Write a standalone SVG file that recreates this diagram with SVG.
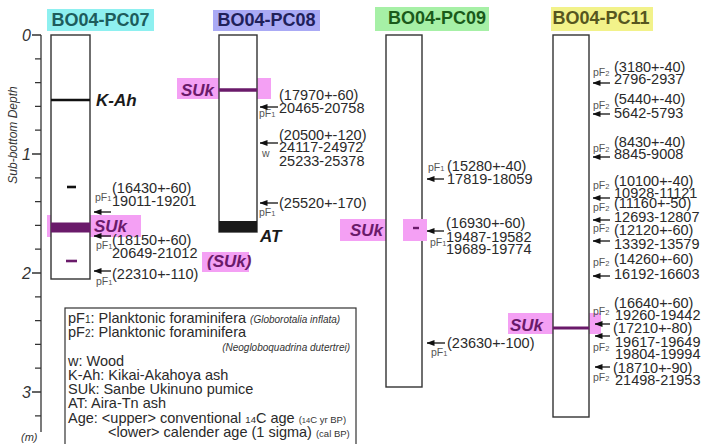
<svg xmlns="http://www.w3.org/2000/svg" width="702" height="444" viewBox="0 0 702 444">
<defs>
<style>
text{font-family:"Liberation Sans",Arial,sans-serif;}
.core{fill:#fff;stroke:#333;stroke-width:1.4;}
.title{font-size:18px;font-weight:bold;text-anchor:middle;}
.num{font-size:14.5px;fill:#2a2a2a;}
.pf{font-size:10.5px;fill:#555;}
.pfs{font-size:7.5px;}
.tag{font-size:17px;font-weight:bold;font-style:italic;fill:#1a1a1a;}
.suk{font-size:17px;font-weight:bold;font-style:italic;fill:#6a1a6a;}
.pink{fill:#f4a0f4;}
.purple{stroke:#6a1a6a;}
.arrow{stroke:#111;stroke-width:1.3;fill:none;marker-end:url(#ah);}
.ax{stroke:#333;stroke-width:1.3;fill:none;}
.axl{font-size:16px;font-style:italic;fill:#333;text-anchor:end;}
.leg{font-size:14.5px;fill:#2a2a2a;}
.legs{font-size:10px;font-style:italic;fill:#333;}
.legsm{font-size:9.5px;fill:#333;}
</style>
<marker id="ah" viewBox="0 0 8 6" refX="7.5" refY="3" markerWidth="8" markerHeight="6" markerUnits="userSpaceOnUse" orient="auto">
<path d="M0,0 L8,3 L0,6 z" fill="#111"/>
</marker>
</defs>
<rect width="702" height="444" fill="#fff"/>

<g id="axis">
<line class="ax" x1="41" y1="35" x2="41" y2="432"/>
<path class="ax" d="M32,35H41M35,58.8H41M35,82.6H41M35,106.4H41M35,130.2H41M32,154H41M35,177.8H41M35,201.6H41M35,225.4H41M35,249.2H41M32,273H41M35,296.8H41M35,320.6H41M35,344.4H41M35,368.2H41M32,392H41M35,415.8H41"/>
<text class="axl" x="31" y="41">0</text>
<text class="axl" x="31" y="160">1</text>
<text class="axl" x="31" y="279">2</text>
<text class="axl" x="31" y="398">3</text>
<text x="17" y="135" transform="rotate(-90 17 135)" font-size="12" font-style="italic" fill="#333" text-anchor="middle">Sub-bottom Depth</text>
<text x="21" y="441" font-size="11" font-style="italic" fill="#333">(m)</text>
</g>

<g id="pc07">
<rect x="47" y="9" width="107" height="22" fill="#8ef0f0"/>
<text class="title" x="100.5" y="26" fill="#1d5c5c">BO04-PC07</text>
<rect class="pink" x="47" y="215" width="94" height="22"/>
<rect class="pink" x="60" y="250" width="24" height="22"/>
<rect class="core" x="51" y="35" width="39" height="244"/>
<line x1="51" y1="100" x2="90" y2="100" stroke="#111" stroke-width="2.6"/>
<text class="tag" x="96" y="106">K-Ah</text>
<line x1="67" y1="187" x2="76" y2="187" stroke="#111" stroke-width="2.6"/>
<rect x="51" y="222.5" width="39" height="10" fill="#6a1a6a"/>
<text class="suk" x="94" y="232">SUk</text>
<line class="purple" x1="66" y1="261" x2="77" y2="261" stroke-width="2.6"/>
<text class="num" x="112" y="193">(16430+-60)</text>
<text class="num" x="112" y="206">19011-19201</text>
<text class="pf" x="95" y="201">pF<tspan class="pfs">1</tspan></text>
<text class="num" x="112" y="245">(18150+-60)</text>
<text class="pf" x="96" y="249">pF<tspan class="pfs">1</tspan></text>
<text class="num" x="112" y="258">20649-21012</text>
<text class="num" x="112" y="279">(22310+-110)</text>
<text class="pf" x="96" y="285">pF<tspan class="pfs">1</tspan></text>
</g>

<g id="pc08">
<rect x="213" y="10" width="107" height="21" fill="#aaaaf5"/>
<text class="title" x="266.5" y="26" fill="#20205a">BO04-PC08</text>
<rect class="pink" x="177" y="78" width="94" height="21"/>
<rect class="core" x="219" y="35" width="38" height="197"/>
<line class="purple" x1="219" y1="90" x2="257" y2="90" stroke-width="3.5"/>
<text class="suk" x="181" y="96">SUk</text>
<rect x="219" y="221" width="38" height="11" fill="#1a1a1a"/>
<text class="tag" x="260" y="242" font-size="18">AT</text>
<rect class="pink" x="202" y="252" width="47" height="20"/>
<text class="suk" x="207" y="267" font-size="14.5">(SUk)</text>
<text class="num" x="279" y="100">(17970+-60)</text>
<text class="num" x="279" y="113">20465-20758</text>
<text class="pf" x="259" y="117">pF<tspan class="pfs">1</tspan></text>
<text class="num" x="279" y="140">(20500+-120)</text>
<text class="num" x="279" y="152">24117-24972</text>
<text class="pf" x="262" y="157">w</text>
<text class="num" x="279" y="166">25233-25378</text>
<text class="num" x="279" y="208">(25520+-170)</text>
<text class="pf" x="259" y="216">pF<tspan class="pfs">1</tspan></text>
</g>

<g id="pc09">
<rect x="375" y="7" width="114" height="24" fill="#a6f0a6"/>
<text class="title" x="437" y="24" fill="#1a5a1a">BO04-PC09</text>
<rect class="pink" x="340" y="219" width="47" height="22"/>
<rect class="core" x="386" y="35" width="36" height="352"/>
<rect class="pink" x="403" y="219" width="24" height="22"/>
<line class="purple" x1="413" y1="228" x2="419" y2="228" stroke-width="2.4"/>
<text class="suk" x="350" y="236">SUk</text>
<text class="pf" x="428" y="171">pF<tspan class="pfs">1</tspan></text>
<text class="num" x="447" y="171">(15280+-40)</text>
<text class="num" x="447" y="184">17819-18059</text>
<text class="num" x="446" y="228">(16930+-60)</text>
<text class="num" x="446" y="242">19487-19582</text>
<text class="pf" x="430" y="246">pF<tspan class="pfs">1</tspan></text>
<text class="num" x="446" y="254">19689-19774</text>
<text class="num" x="447" y="348">(23630+-100)</text>
<text class="pf" x="431" y="356">pF<tspan class="pfs">1</tspan></text>
</g>

<g id="pc11">
<rect x="551" y="7" width="102" height="24" fill="#f2f28a"/>
<text class="title" x="601" y="24" fill="#565620">BO04-PC11</text>
<rect class="pink" x="508" y="313" width="93" height="21"/>
<rect class="core" x="553" y="35" width="36" height="382"/>
<line class="purple" x1="553" y1="328" x2="589" y2="328" stroke-width="3"/>
<text class="suk" x="510" y="331">SUk</text>
<text class="pf" x="593" y="76">pF<tspan class="pfs">2</tspan></text>
<text class="num" x="614" y="72">(3180+-40)</text>
<text class="num" x="614" y="84">2796-2937</text>
<text class="pf" x="593" y="109">pF<tspan class="pfs">2</tspan></text>
<text class="num" x="614" y="104">(5440+-40)</text>
<text class="num" x="614" y="118">5642-5793</text>
<text class="pf" x="593" y="152">pF<tspan class="pfs">2</tspan></text>
<text class="num" x="614" y="147">(8430+-40)</text>
<text class="num" x="614" y="159">8845-9008</text>
<text class="pf" x="593" y="189">pF<tspan class="pfs">2</tspan></text>
<text class="num" x="614" y="186">(10100+-40)</text>
<text class="num" x="614" y="198">10928-11121</text>
<text class="pf" x="593" y="211">pF<tspan class="pfs">2</tspan></text>
<text class="num" x="614" y="208">(11160+-50)</text>
<text class="num" x="614" y="222">12693-12807</text>
<text class="pf" x="593" y="232">pF<tspan class="pfs">2</tspan></text>
<text class="num" x="614" y="235">(12120+-60)</text>
<text class="num" x="614" y="249">13392-13579</text>
<text class="pf" x="593" y="266">pF<tspan class="pfs">2</tspan></text>
<text class="num" x="614" y="264">(14260+-60)</text>
<text class="num" x="614" y="279">16192-16603</text>
<text class="num" x="614" y="308">(16640+-60)</text>
<text class="pf" x="593" y="315">pF<tspan class="pfs">2</tspan></text>
<text class="num" x="615" y="320">19260-19442</text>
<text class="num" x="613" y="333">(17210+-80)</text>
<text class="num" x="615" y="347">19617-19649</text>
<text class="pf" x="593" y="351">pF<tspan class="pfs">2</tspan></text>
<text class="num" x="615" y="359">19804-19994</text>
<text class="num" x="613" y="373">(18710+-90)</text>
<text class="pf" x="593" y="381">pF<tspan class="pfs">2</tspan></text>
<text class="num" x="615" y="385">21498-21953</text>
</g>

<g id="connectors">
<line class="arrow" x1="111" y1="212" x2="94" y2="212"/>
<line class="arrow" x1="111" y1="236" x2="94" y2="236"/>
<line class="arrow" x1="111" y1="271" x2="94" y2="271"/>
<line class="arrow" x1="278" y1="107" x2="260" y2="107"/>
<line class="arrow" x1="278" y1="143" x2="260" y2="143"/>
<line class="arrow" x1="278" y1="203" x2="260" y2="203"/>
<line class="arrow" x1="444" y1="179" x2="427" y2="179"/>
<line class="arrow" x1="444" y1="231" x2="427" y2="231"/>
<line class="arrow" x1="445" y1="343" x2="427" y2="343"/>
<line class="arrow" x1="610" y1="83" x2="593" y2="83"/>
<line class="arrow" x1="610" y1="114" x2="593" y2="114"/>
<line class="arrow" x1="610" y1="157" x2="593" y2="157"/>
<line class="arrow" x1="610" y1="198" x2="593" y2="198"/>
<line class="arrow" x1="610" y1="220" x2="593" y2="220"/>
<line class="arrow" x1="610" y1="241" x2="593" y2="241"/>
<line class="arrow" x1="610" y1="276" x2="593" y2="276"/>
<line class="arrow" x1="610" y1="324" x2="595" y2="324"/>
<line class="arrow" x1="610" y1="336" x2="595" y2="336"/>
<line class="arrow" x1="610" y1="367" x2="595" y2="367"/>
</g>

<g id="legend">
<rect x="65" y="308" width="291" height="140" fill="#fff" stroke="#333" stroke-width="1.2"/>
<text class="leg" x="68" y="323">pF<tspan font-size="10">1</tspan>: Planktonic foraminifera <tspan class="legs">(Globorotalia inflata)</tspan></text>
<text class="leg" x="68" y="337">pF<tspan font-size="10">2</tspan>: Planktonic foraminifera</text>
<text class="legs" x="350" y="351" text-anchor="end">(Neogloboquadrina dutertrei)</text>
<text class="leg" x="68" y="366">w: Wood</text>
<text class="leg" x="68" y="380">K-Ah: Kikai-Akahoya ash</text>
<text class="leg" x="68" y="394">SUk: Sanbe Ukinuno pumice</text>
<text class="leg" x="68" y="408">AT: Aira-Tn ash</text>
<text class="leg" x="68" y="423">Age: &lt;upper&gt; conventional <tspan font-size="9.5">14</tspan>C age <tspan class="legsm">(<tspan font-size="7.5">14</tspan>C yr BP)</tspan></text>
<text class="leg" x="108" y="437">&lt;lower&gt; calender age (1 sigma) <tspan class="legsm">(cal BP)</tspan></text>
</g>
</svg>
